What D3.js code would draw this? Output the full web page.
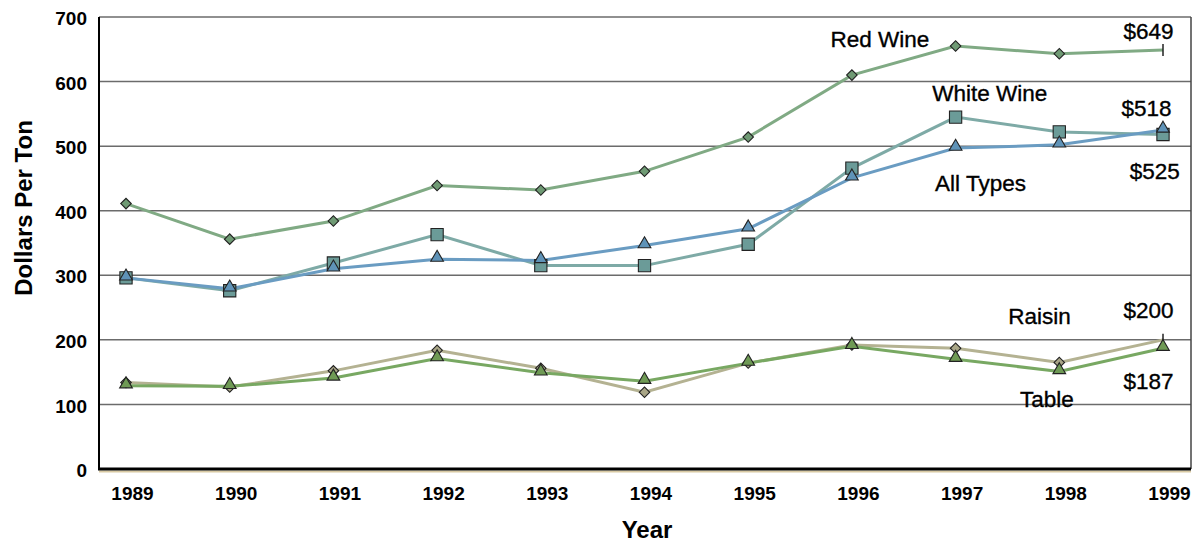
<!DOCTYPE html>
<html>
<head>
<meta charset="utf-8">
<script src="https://cdn.jsdelivr.net/npm/d3@7"></script>
<style>
  body { margin: 0; background: #fff; }
  text { font-family: "Liberation Sans", Arial, sans-serif; }
</style>
</head>
<body>
<div id="chart"></div>
<script>
// data (dollars per ton)
var years     = [1989, 1990, 1991, 1992, 1993, 1994, 1995, 1996, 1997, 1998, 1999];
var redWine   = [411, 356, 384, 439, 432, 461, 514, 610, 655, 643, 649];
var whiteWine = [296, 276, 319, 363, 315, 315, 348, 466, 545, 522, 518];
var allTypes  = [296, 279, 310, 325, 323, 346, 372, 451, 497, 502, 525];
var raisin    = [134, 127, 152, 184, 156, 119, 164, 192, 187, 165, 200];
var table     = [129, 128, 141, 171, 149, 136, 164, 190, 170, 151, 187];
var yTicks    = [0, 100, 200, 300, 400, 500, 600, 700];

var series = [
  {name: 'Raisin',     values: raisin,    line: '#b4b292', fill: '#a9a687', shape: 'diamond',  endTick: true},
  {name: 'Table',      values: table,     line: '#78a862', fill: '#6f9a55', shape: 'triangle', endTick: false},
  {name: 'Red Wine',   values: redWine,   line: '#80aa84', fill: '#6f9a74', shape: 'diamond',  endTick: true},
  {name: 'White Wine', values: whiteWine, line: '#7eaaa6', fill: '#6b9b98', shape: 'square',   endTick: false},
  {name: 'All Types',  values: allTypes,  line: '#6a9cc2', fill: '#5f93b8', shape: 'triangle', endTick: false}
];

// text labels placed next to the lines (year, value of the text centre)
var labels = [
  {text: 'Red Wine',   x: 1996.27, y: 666},
  {text: '$649',       x: 1998.86, y: 678},
  {text: 'White Wine', x: 1997.33, y: 582},
  {text: '$518',       x: 1998.84, y: 559},
  {text: 'All Types',  x: 1997.24, y: 443},
  {text: '$525',       x: 1998.92, y: 461},
  {text: 'Raisin',     x: 1997.81, y: 237},
  {text: '$200',       x: 1998.86, y: 247},
  {text: 'Table',      x: 1997.88, y: 109},
  {text: '$187',       x: 1998.86, y: 136}
];

var W = 1196, H = 542;
var margin = {top: 17, right: 5, bottom: 73, left: 99},
    width = W - margin.left - margin.right,
    height = H - margin.top - margin.bottom;

var svg = d3.select('#chart').append('svg')
  .attr('width', W)
  .attr('height', H)
  .append('g')
  .attr('transform', 'translate(' + margin.left + ',' + margin.top + ')');

var x = d3.scaleLinear().domain([1989, 1999]).range([27, 1064]);
var y = d3.scaleLinear().domain([0, 700]).range([height, 0]);

// grid lines
svg.append('g')
  .selectAll('line')
  .data(yTicks.filter(function(d){ return d > 0; }))
  .enter().append('line')
  .attr('x1', 0).attr('x2', width)
  .attr('y1', function(d){ return y(d); })
  .attr('y2', function(d){ return y(d); })
  .attr('stroke', '#6b6b6b')
  .attr('stroke-width', 1.5);

// frame: right border
svg.append('line')
  .attr('x1', width).attr('x2', width).attr('y1', y(700)).attr('y2', height)
  .attr('stroke', '#444').attr('stroke-width', 1.5);

// y axis
var yAxis = svg.append('g')
  .call(d3.axisLeft(y).tickValues(yTicks).tickSize(0).tickPadding(12));
yAxis.select('.domain').remove();
yAxis.selectAll('text')
  .attr('font-size', '19px').attr('font-weight', 'bold').attr('fill', '#000')
  .attr('dy', '0.4em');

// x axis
var xAxis = svg.append('g')
  .attr('transform', 'translate(0,' + height + ')')
  .call(d3.axisBottom(x).tickValues(years).tickFormat(d3.format('d')).tickSize(0).tickPadding(18));
xAxis.select('.domain').remove();
xAxis.selectAll('text')
  .attr('dx', 6)
  .attr('font-size', '19px').attr('font-weight', 'bold').attr('fill', '#000');

// axis lines
svg.append('line')
  .attr('x1', 0).attr('x2', width).attr('y1', height + 2.5).attr('y2', height + 2.5)
  .attr('stroke', '#d8c9a3').attr('stroke-width', 2);
svg.append('line')
  .attr('x1', -1).attr('x2', width).attr('y1', height).attr('y2', height)
  .attr('stroke', '#000').attr('stroke-width', 3);
svg.append('line')
  .attr('x1', 0).attr('x2', 0).attr('y1', 0).attr('y2', height)
  .attr('stroke', '#000').attr('stroke-width', 2);

// lines
var line = d3.line()
  .x(function(d, i){ return x(years[i]); })
  .y(function(d){ return y(d); });

series.forEach(function(s){
  svg.append('path')
    .datum(s.values)
    .attr('fill', 'none')
    .attr('stroke', s.line)
    .attr('stroke-width', 3)
    .attr('d', line);
});

// markers (diamond = square turned 45 degrees)
var symbolType = {diamond: d3.symbolSquare, square: d3.symbolSquare, triangle: d3.symbolTriangle};
var symbolSize = {diamond: 55, square: 150, triangle: 70};
var symbolRot  = {diamond: 45, square: 0, triangle: 0};

series.forEach(function(s){
  var pts = s.values.map(function(v, i){ return {year: years[i], v: v}; });
  var marked = s.endTick ? pts.slice(0, -1) : pts;
  svg.append('g')
    .selectAll('path')
    .data(marked)
    .enter().append('path')
    .attr('transform', function(d){
      var dy = s.shape === 'triangle' ? -1.5 : 0;
      return 'translate(' + x(d.year) + ',' + (y(d.v) + dy) + ') rotate(' + symbolRot[s.shape] + ')';
    })
    .attr('d', d3.symbol().type(symbolType[s.shape]).size(symbolSize[s.shape]))
    .attr('fill', s.fill)
    .attr('stroke', '#222')
    .attr('stroke-width', 1.1);
  if (s.endTick) {
    var last = pts[pts.length - 1];
    svg.append('line')
      .attr('x1', x(last.year)).attr('x2', x(last.year))
      .attr('y1', y(last.v) - 6).attr('y2', y(last.v) + 6)
      .attr('stroke', '#222').attr('stroke-width', 1.5);
  }
});

// series labels
svg.append('g')
  .selectAll('text')
  .data(labels)
  .enter().append('text')
  .attr('x', function(d){ return x(d.x); })
  .attr('y', function(d){ return y(d.y); })
  .attr('dy', '0.36em')
  .attr('text-anchor', 'middle')
  .attr('font-size', '22.5px')
  .attr('fill', '#000')
  .attr('stroke', '#000')
  .attr('stroke-width', 0.35)
  .text(function(d){ return d.text; });

// axis titles
svg.append('text')
  .attr('x', 548)
  .attr('y', 521)
  .attr('text-anchor', 'middle')
  .attr('font-size', '24px').attr('font-weight', 'bold')
  .text('Year');

svg.append('text')
  .attr('transform', 'translate(' + (-67) + ',' + 191 + ') rotate(-90)')
  .attr('text-anchor', 'middle')
  .attr('font-size', '24px').attr('font-weight', 'bold')
  .text('Dollars Per Ton');
</script>
</body>
</html>
